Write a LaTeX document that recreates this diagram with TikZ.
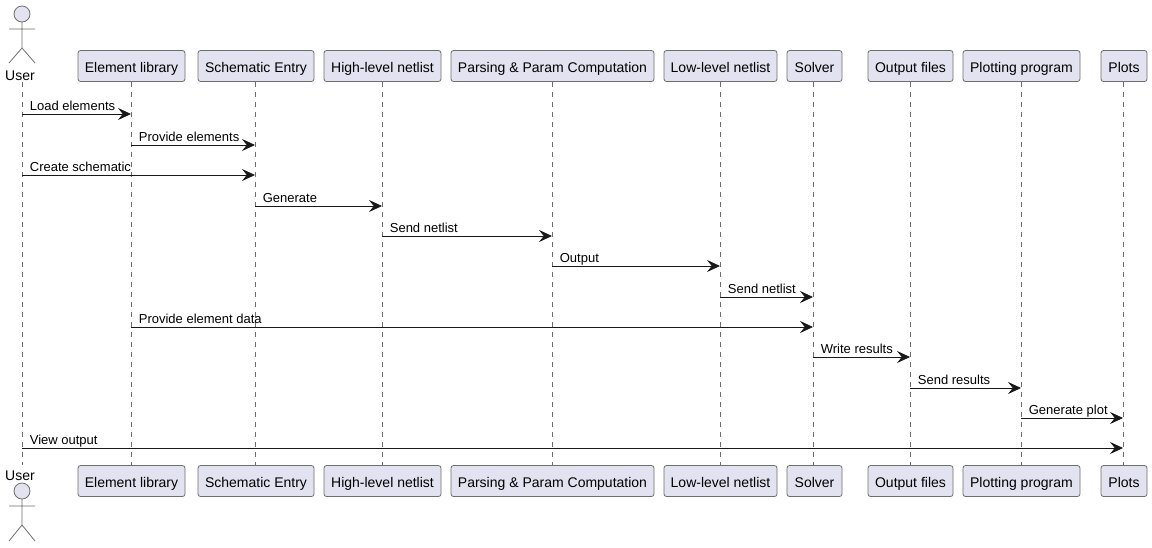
\documentclass[tikz,border=0pt]{standalone}
\usepackage{fontspec}
\setmainfont{Liberation Sans}
\usetikzlibrary{arrows.meta}
\definecolor{boxfill}{HTML}{E2E2F0}
\definecolor{inkline}{HTML}{181818}
\definecolor{stickline}{HTML}{6E6E6E}
\tikzset{
	part/.style={draw=stickline, fill=boxfill, line width=0.6pt, rounded corners=1.9pt, inner sep=0pt, minimum height=23.25pt, text height=9.8pt, text depth=0pt, font=\fontsize{10.5}{12}\selectfont},
	lifeline/.style={draw=stickline, line width=0.5pt, dash pattern=on 3.75pt off 3.75pt},
	msg/.style={draw=inkline, line width=0.6pt, arrows={-Stealth[length=9.75pt,width=9pt,inset=3.6pt]}},
	msgtext/.style={pos=0, anchor=south west, inner xsep=5.6pt, inner ysep=0.7pt, text height=7.2pt, text depth=2pt, font=\fontsize{9.75}{11}\selectfont},
	stick/.style={draw=stickline, line width=0.6pt},
	actorname/.style={inner sep=0pt, text height=7.6pt, text depth=0pt, font=\fontsize{10.5}{12}\selectfont}
}
\begin{document}
\begin{tikzpicture}[x=0.75pt, y=-0.75pt]
	\useasboundingbox (0,0) rectangle (1152,547);

	% top row
	\node [actorname] (userT) at (20,75.5) {User};
	\node [part, minimum width=80.25pt] (elibT) at (131.5,66) {Element library};
	\node [part, minimum width=87pt] (schemT) at (256,66) {Schematic Entry};
	\node [part, minimum width=87.75pt] (highT) at (382.5,66) {High-level netlist};
	\node [part, minimum width=152.25pt] (parseT) at (552.5,66) {Parsing \& Param Computation};
	\node [part, minimum width=84.75pt] (lowT) at (720.5,66) {Low-level netlist};
	\node [part, minimum width=41.25pt] (solverT) at (814.5,66) {Solver};
	\node [part, minimum width=63.75pt] (filesT) at (910.5,66) {Output files};
	\node [part, minimum width=87.75pt] (plotterT) at (1021.5,66) {Plotting program};
	\node [part, minimum width=34.5pt] (plotsT) at (1124,66) {Plots};

	% bottom row
	\node [actorname] (userB) at (20,475.5) {User};
	\node [part, minimum width=80.25pt] (elibB) at (131.5,481) {Element library};
	\node [part, minimum width=87pt] (schemB) at (256,481) {Schematic Entry};
	\node [part, minimum width=87.75pt] (highB) at (382.5,481) {High-level netlist};
	\node [part, minimum width=152.25pt] (parseB) at (552.5,481) {Parsing \& Param Computation};
	\node [part, minimum width=84.75pt] (lowB) at (720.5,481) {Low-level netlist};
	\node [part, minimum width=41.25pt] (solverB) at (814.5,481) {Solver};
	\node [part, minimum width=63.75pt] (filesB) at (910.5,481) {Output files};
	\node [part, minimum width=87.75pt] (plotterB) at (1021.5,481) {Plotting program};
	\node [part, minimum width=34.5pt] (plotsB) at (1124,481) {Plots};

	% stick figures
	\draw [stick, fill=boxfill] (22,14) circle (6pt);
	\draw [stick] (22,22) -- (22,48) (9,29) -- (35,29) (9,63) -- (22,48) -- (35,63);
	\draw [stick, fill=boxfill] (22,491) circle (6pt);
	\draw [stick] (22,499) -- (22,525) (9,506) -- (35,506) (9,541) -- (22,525) -- (35,541);

	% lifelines
	\coordinate (userU) at (22,82);
	\coordinate (userD) at (22,465);
	\draw [lifeline] (userU) -- (userD);
	\draw [lifeline] ([xshift=-0.375pt]elibT.south) -- ([xshift=-0.375pt]elibB.north);
	\draw [lifeline] ([xshift=-0.75pt]schemT.south) -- ([xshift=-0.75pt]schemB.north);
	\draw [lifeline] ([xshift=-0.375pt]highT.south) -- ([xshift=-0.375pt]highB.north);
	\draw [lifeline] ([xshift=-0.375pt]parseT.south) -- ([xshift=-0.375pt]parseB.north);
	\draw [lifeline] ([xshift=-0.375pt]lowT.south) -- ([xshift=-0.375pt]lowB.north);
	\draw [lifeline] ([xshift=-1.125pt]solverT.south) -- ([xshift=-1.125pt]solverB.north);
	\draw [lifeline] ([xshift=-0.375pt]filesT.south) -- ([xshift=-0.375pt]filesB.north);
	\draw [lifeline] ([xshift=-0.375pt]plotterT.south) -- ([xshift=-0.375pt]plotterB.north);
	\draw [lifeline] ([xshift=-0.75pt]plotsT.south) -- ([xshift=-0.75pt]plotsB.north);

	% message ends
	\coordinate (loadA) at (22,114);      \coordinate (loadB) at (131,114);
	\coordinate (provA) at (131,145);     \coordinate (provB) at (255,145);
	\coordinate (createA) at (22,175);    \coordinate (createB) at (255,175);
	\coordinate (genA) at (255,206);      \coordinate (genB) at (382,206);
	\coordinate (sendA) at (382,236);     \coordinate (sendB) at (552,236);
	\coordinate (outA) at (552,266);      \coordinate (outB) at (720,266);
	\coordinate (nextA) at (720,297);     \coordinate (nextB) at (813,297);
	\coordinate (dataA) at (131,327);     \coordinate (dataB) at (813,327);
	\coordinate (writeA) at (813,357);    \coordinate (writeB) at (910,357);
	\coordinate (resA) at (910,388);      \coordinate (resB) at (1021,388);
	\coordinate (plotA) at (1021,418);    \coordinate (plotB) at (1123,418);
	\coordinate (viewA) at (22,448);      \coordinate (viewB) at (1123,448);

	% messages
	\draw [msg] (loadA) to node [msgtext] {Load elements} (loadB);
	\draw [msg] (provA) to node [msgtext] {Provide elements} (provB);
	\draw [msg] (createA) to node [msgtext] {Create schematic} (createB);
	\draw [msg] (genA) to node [msgtext] {Generate} (genB);
	\draw [msg] (sendA) to node [msgtext] {Send netlist} (sendB);
	\draw [msg] (outA) to node [msgtext] {Output} (outB);
	\draw [msg] (nextA) to node [msgtext] {Send netlist} (nextB);
	\draw [msg] (dataA) to node [msgtext] {Provide element data} (dataB);
	\draw [msg] (writeA) to node [msgtext] {Write results} (writeB);
	\draw [msg] (resA) to node [msgtext] {Send results} (resB);
	\draw [msg] (plotA) to node [msgtext] {Generate plot} (plotB);
	\draw [msg] (viewA) to node [msgtext] {View output} (viewB);
\end{tikzpicture}
\end{document}
